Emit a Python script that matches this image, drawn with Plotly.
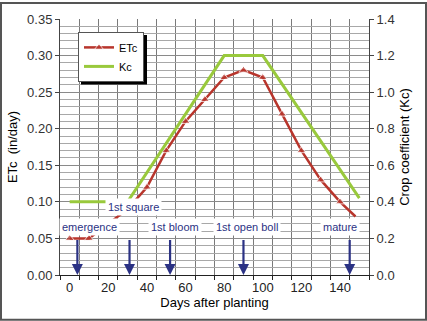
import plotly.graph_objects as go

# ETc (in/day)
etc_days = [0, 10, 20, 30, 40, 50, 60, 70, 80, 90, 100, 110, 120, 130, 140, 148]
etc_vals = [0.05, 0.05, 0.07, 0.09, 0.12, 0.17, 0.21, 0.24, 0.27, 0.28, 0.27, 0.22, 0.17, 0.13, 0.10, 0.08]

# crop coefficient
kc_days = [0, 30, 80, 100, 150]
kc_vals = [0.4, 0.4, 1.2, 1.2, 0.42]

# growth stages
stage_days = [4, 31, 52, 90, 145]
stage_names = ['emergence', '1st square', '1st bloom', '1st open boll', 'mature']
label_x = [10.5, 33, 54.5, 92, 140]
label_y = [0.066, 0.0935, 0.066, 0.066, 0.066]

x_ticks = [0, 20, 40, 60, 80, 100, 120, 140]

W, H = 427, 321
L, R, T, B = 60, 58, 17, 46
pw, ph = W - L - R, H - T - B

FONT = 'Liberation Sans, Arial, sans-serif'
NAVY = '#2b3284'

fig = go.Figure()

fig.add_trace(go.Scatter(
    x=etc_days, y=etc_vals, name='ETc', mode='lines+markers',
    line=dict(color='#b8352c', width=2.5),
    marker=dict(symbol='triangle-up', size=[8] * (len(etc_days) - 1) + [0], color='#b8352c'),
))
fig.add_trace(go.Scatter(
    x=kc_days, y=kc_vals, name='Kc', mode='lines', yaxis='y2',
    line=dict(color='#99c93c', width=3),
))

for d in stage_days:
    fig.add_annotation(
        x=d, y=0, ax=d, ay=0.05, xref='x', yref='y', axref='x', ayref='y',
        showarrow=True, arrowhead=2, arrowsize=1, arrowwidth=2.2, arrowcolor=NAVY, text='',
    )

for name, lx, ly in zip(stage_names, label_x, label_y):
    fig.add_annotation(
        x=lx, y=ly, text=name, showarrow=False, bgcolor='white', borderpad=2,
        font=dict(family=FONT, size=11, color=NAVY),
    )

# pixel -> paper helpers
def px_x(p):
    return (p - L) / pw

def px_y(p):
    return (H - B - p) / ph

# legend shadow
fig.add_shape(type='rect', xref='paper', yref='paper',
              x0=px_x(81), x1=px_x(147), y0=px_y(83), y1=px_y(33),
              fillcolor='black', line_width=0, layer='above')

# outer frame
fig.add_shape(type='rect', xref='paper', yref='paper',
              x0=px_x(1), x1=px_x(W - 1), y0=px_y(H - 1), y1=px_y(1),
              line=dict(color='#555', width=2), fillcolor='rgba(0,0,0,0)', layer='above')

fig.update_layout(
    width=W, height=H,
    margin=dict(l=L, r=R, t=T, b=B),
    plot_bgcolor='white', paper_bgcolor='white',
    font=dict(family=FONT, size=12, color='#222'),
    legend=dict(
        x=px_x(78), y=px_y(30), xanchor='left', yanchor='top',
        bgcolor='white', bordercolor='#555', borderwidth=1,
        font=dict(size=11, color='black'), itemwidth=30, tracegroupgap=4,
    ),
    xaxis=dict(
        range=[-5, 155], tickmode='array', tickvals=x_ticks,
        showgrid=False, ticks='', showline=True, linecolor='#222', linewidth=1,
        zeroline=False, tickfont=dict(size=13, color='#222'),
        minor=dict(tickmode='linear', tick0=-5, dtick=10, showgrid=True, gridcolor='#7a7a7a',
                   gridwidth=1, ticks='outside', ticklen=4, tickcolor='#222'),
        title=dict(text='Days after planting', standoff=2, font=dict(size=13, color='black')),
    ),
    yaxis=dict(
        range=[0, 0.35], dtick=0.05, tickformat='.2f',
        showgrid=True, gridcolor='#8a8a8a', gridwidth=1,
        minor=dict(dtick=0.01, showgrid=True, gridcolor='#a8a8a8', gridwidth=1),
        ticks='outside', ticklen=4, tickcolor='#444', showline=True, linecolor='#444',
        zeroline=False, tickfont=dict(size=13, color='#333'),
        title=dict(text='ETc  (in/day)', standoff=6, font=dict(size=13, color='black')),
    ),
    yaxis2=dict(
        range=[0, 1.4], dtick=0.2, tickformat='.1f', overlaying='y', side='right',
        showgrid=False, ticks='outside', ticklen=4, tickcolor='#444',
        showline=True, linecolor='#444', zeroline=False, tickfont=dict(size=13, color='#333'),
        title=dict(text='Crop coefficient (Kc)', standoff=6, font=dict(size=13, color='black')),
    ),
)

fig.write_html('out.html', config={'displayModeBar': False},
               post_script="document.body.style.margin='0';")
